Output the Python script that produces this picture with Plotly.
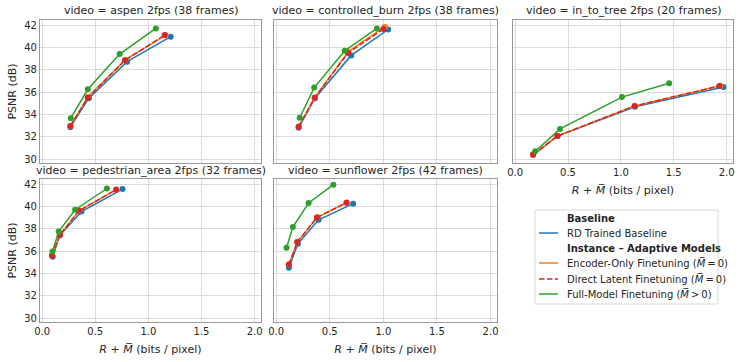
import plotly.graph_objects as go

videos = ["aspen", "controlled_burn", "in_to_tree", "pedestrian_area", "sunflower"]
frames = [38, 38, 20, 32, 42]

# rate (bits/pixel) and PSNR (dB), one inner list per video (order as in `videos`)
baseline_rate = [[0.266, 0.44, 0.80, 1.21], [0.21, 0.36, 0.70, 1.045], [0.17, 0.40, 1.134, 1.97],
                 [0.10, 0.165, 0.37, 0.757], [0.119, 0.203, 0.396, 0.718]]
baseline_psnr = [[32.86, 35.45, 38.72, 40.96], [32.80, 35.43, 39.28, 41.60], [30.36, 32.06, 34.69, 36.45],
                 [35.50, 37.39, 39.53, 41.55], [34.50, 36.66, 38.80, 40.24]]

encoder_rate = [[0.265, 0.43, 0.785, 1.16], [0.21, 0.36, 0.675, 1.015], [0.17, 0.40, 1.13, 1.94],
                [0.093, 0.168, 0.35, 0.70], [0.119, 0.198, 0.385, 0.66]]
encoder_psnr = [[32.95, 35.55, 38.90, 41.08], [32.90, 35.52, 39.64, 41.85], [30.40, 32.08, 34.76, 36.56],
                [35.60, 37.47, 39.62, 41.50], [34.82, 36.82, 39.02, 40.35]]

direct_rate = [[0.266, 0.43, 0.78, 1.154], [0.21, 0.36, 0.67, 1.00], [0.17, 0.40, 1.13, 1.93],
               [0.093, 0.168, 0.346, 0.695], [0.119, 0.197, 0.38, 0.655]]
direct_psnr = [[32.97, 35.50, 38.85, 41.10], [32.90, 35.50, 39.50, 41.64], [30.40, 32.06, 34.75, 36.54],
               [35.60, 37.45, 39.60, 41.49], [34.80, 36.80, 39.00, 40.33]]

full_rate = [[0.27, 0.43, 0.73, 1.07], [0.22, 0.355, 0.64, 0.94], [0.19, 0.425, 1.01, 1.456],
             [0.097, 0.156, 0.31, 0.61], [0.097, 0.156, 0.303, 0.534]]
full_psnr = [[33.66, 36.25, 39.40, 41.70], [33.70, 36.40, 39.70, 41.70], [30.70, 32.70, 35.55, 36.78],
             [35.96, 37.74, 39.70, 41.60], [36.30, 38.15, 40.30, 41.94]]

x_ticks = [0.0, 0.5, 1.0, 1.5, 2.0]
y_ticks = [30, 32, 34, 36, 38, 40, 42]

legend_labels = ["<b>Baseline</b>", "RD Trained Baseline", "<b>Instance \u2013 Adaptive Models</b>",
                 "Encoder-Only Finetuning (<i>M\u0305</i>\u2009=\u20090)",
                 "Direct Latent Finetuning (<i>M\u0305</i>\u2009=\u20090)",
                 "Full-Model Finetuning (<i>M\u0305</i>\u2009>\u20090)"]

DASH = "5.5px,2.4px"
methods = [
    (baseline_rate, baseline_psnr, "#1f77b4", "solid"),
    (encoder_rate, encoder_psnr, "#ff7f0e", "solid"),
    (direct_rate, direct_psnr, "#d62728", DASH),
    (full_rate, full_psnr, "#2ca02c", "solid"),
]

W, H = 742, 362
cols = [(40, 261), (274, 497), (513, 733)]
rows = [(20, 163), (179, 322)]
positions = [(0, 0), (0, 1), (0, 2), (1, 0), (1, 1)]

FONT = "DejaVu Sans"
TXT = "#262626"

fig = go.Figure()

for i, v in enumerate(videos):
    ax = "" if i == 0 else str(i + 1)
    for (rx, py, color, dash) in methods:
        fig.add_trace(go.Scatter(
            x=rx[i], y=py[i], mode="lines+markers",
            line=dict(color=color, width=1.5, dash=dash),
            marker=dict(color=color, size=6),
            xaxis="x" + ax, yaxis="y" + ax, showlegend=False,
        ))

layout = dict(
    width=W, height=H, margin=dict(l=0, r=0, t=0, b=0, autoexpand=False),
    paper_bgcolor="white", plot_bgcolor="white",
    font=dict(family=FONT, size=10, color=TXT),
    showlegend=False,
)

annotations = []
shapes = []
for i, v in enumerate(videos):
    r, c = positions[i]
    ax = "" if i == 0 else str(i + 1)
    x0, x1 = cols[c]
    y0, y1 = rows[r]
    show_x = (r == 1) or (c == 2)
    show_y = (c == 0)
    layout["xaxis" + ax] = dict(
        domain=[x0 / W, x1 / W], anchor="y" + ax, range=[-0.02, 2.06], automargin=False,
        tickvals=x_ticks, ticktext=[f"{t:.1f}" for t in x_ticks], showticklabels=show_x,
        showgrid=True, gridcolor="#dcdcdc", gridwidth=1, zeroline=False,
        showline=True, linecolor="#999999", linewidth=1.25, mirror=True, ticks="",
        tickfont=dict(size=10, color=TXT),
        title=dict(text="<i>R</i> + <i>M\u0305</i> (bits / pixel)" if show_x else "",
                   font=dict(size=11, color=TXT), standoff=9),
    )
    layout["yaxis" + ax] = dict(
        domain=[1 - y1 / H, 1 - y0 / H], anchor="x" + ax, range=[29.65, 42.45], automargin=False,
        tickvals=y_ticks, showticklabels=show_y,
        showgrid=True, gridcolor="#dcdcdc", gridwidth=1, zeroline=False,
        showline=True, linecolor="#999999", linewidth=1.25, mirror=True, ticks="",
        tickfont=dict(size=10, color=TXT),
        title=dict(text="PSNR (dB)" if show_y else "", font=dict(size=11, color=TXT), standoff=5),
    )
    annotations.append(dict(
        text=f"video = {v} 2fps ({frames[i]} frames)", xref="paper", yref="paper",
        x=(x0 + x1) / 2 / W, y=1 - (y0 - 0.5) / H, xanchor="center", yanchor="bottom",
        showarrow=False, font=dict(family=FONT, size=11, color=TXT),
    ))

# hand-drawn legend (matplotlib-style compact spacing)
leg_left, leg_right, leg_top, leg_bottom = 535, 718, 210, 304
shapes.append(dict(type="rect", xref="paper", yref="paper",
                   x0=leg_left / W, x1=leg_right / W, y0=1 - leg_bottom / H, y1=1 - leg_top / H,
                   line=dict(color="#d9d9d9", width=1), fillcolor="white", layer="above"))
entry_y = [219, 233, 248, 263, 279, 294]
entry_style = [None, methods[0], None, methods[1], methods[2], methods[3]]
for label, yy, st in zip(legend_labels, entry_y, entry_style):
    if st is not None:
        shapes.append(dict(type="line", xref="paper", yref="paper",
                           x0=539 / W, x1=558 / W, y0=1 - yy / H, y1=1 - yy / H,
                           line=dict(color=st[2], width=1.5, dash=st[3]), layer="above"))
    annotations.append(dict(text=label, xref="paper", yref="paper", x=565 / W, y=1 - yy / H,
                            xanchor="left", yanchor="middle", showarrow=False,
                            font=dict(family=FONT, size=10, color=TXT)))

layout["annotations"] = annotations
layout["shapes"] = shapes
fig.update_layout(**layout)
fig.write_html("out.html", config={"displayModeBar": False},
               post_script="document.body.style.margin='0';")
